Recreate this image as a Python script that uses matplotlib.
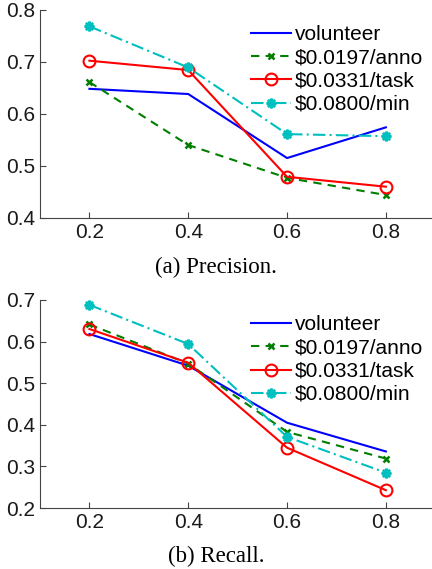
import matplotlib
matplotlib.use('Agg')
import matplotlib.pyplot as plt

# x positions shared by both panels
x_vals = [0.2, 0.4, 0.6, 0.8]
labels = ['volunteer', '\\$0.0197/anno', '\\$0.0331/task', '\\$0.0800/min']

# (a) precision
prec_volunteer = [0.648, 0.638, 0.515, 0.574]
prec_anno = [0.661, 0.540, 0.477, 0.444]
prec_task = [0.702, 0.684, 0.479, 0.460]
prec_min = [0.768, 0.689, 0.561, 0.557]

# (b) recall
rec_volunteer = [0.618, 0.542, 0.405, 0.336]
rec_anno = [0.641, 0.547, 0.383, 0.319]
rec_task = [0.630, 0.549, 0.345, 0.243]
rec_min = [0.688, 0.594, 0.371, 0.285]

plt.rcParams['font.family'] = ['Liberation Sans', 'DejaVu Sans']

fig = plt.figure(figsize=(4.32, 5.69), dpi=100)
ax1 = fig.add_axes([0.0926, 0.617, 0.915, 0.366])
ax2 = fig.add_axes([0.0926, 0.107, 0.915, 0.366])


def draw(ax, series, ylim, yticks):
    v, a, t, m = series
    ax.plot(x_vals, v, color='#0000ff', lw=1.5, label=labels[0])
    ax.plot(x_vals, a, color='#007f00', lw=1.5, ls=(0, (4, 3)), marker='x',
            ms=5, mew=1.8, label=labels[1])
    ax.plot(x_vals, t, color='#ff0000', lw=1.5, marker='o', ms=8.5,
            mfc='none', mew=1.5, label=labels[2])
    ax.plot(x_vals, m, color='#00bfbf', lw=1.5, ls=(0, (6, 2, 1, 2)),
            marker=(8, 2, 0), ms=7, mew=1.8, label=labels[3])
    ax.set_xlim(0.1, 0.9)
    ax.set_ylim(*ylim)
    ax.set_xticks(x_vals)
    ax.set_xticklabels(['0.2', '0.4', '0.6', '0.8'])
    ax.set_yticks(yticks)
    ax.set_yticklabels(['%.1f' % y for y in yticks])
    ax.spines['top'].set_visible(False)
    ax.spines['right'].set_visible(False)
    for s in ['left', 'bottom']:
        ax.spines[s].set_color('#444444')
        ax.spines[s].set_linewidth(0.8)
    ax.tick_params(direction='in', labelsize=15, length=4, colors='#444444',
                   labelcolor='#1a1a1a')
    ax.legend(loc='upper right', bbox_to_anchor=(0.99, 0.965), frameon=False,
              fontsize=15, handlelength=1.9, handletextpad=0.2,
              labelspacing=0.2, borderaxespad=0)


draw(ax1, [prec_volunteer, prec_anno, prec_task, prec_min], (0.4, 0.8),
     [0.4, 0.5, 0.6, 0.7, 0.8])
draw(ax2, [rec_volunteer, rec_anno, rec_task, rec_min], (0.2, 0.7),
     [0.2, 0.3, 0.4, 0.5, 0.6, 0.7])

fig.text(0.5, 1 - 267 / 569, '(a) Precision.', ha='center', va='center',
         fontsize=16.5, family='Liberation Serif')
fig.text(0.5, 1 - 556 / 569, '(b) Recall.', ha='center', va='center',
         fontsize=16.5, family='Liberation Serif')

fig.savefig('out.png', dpi=100)
